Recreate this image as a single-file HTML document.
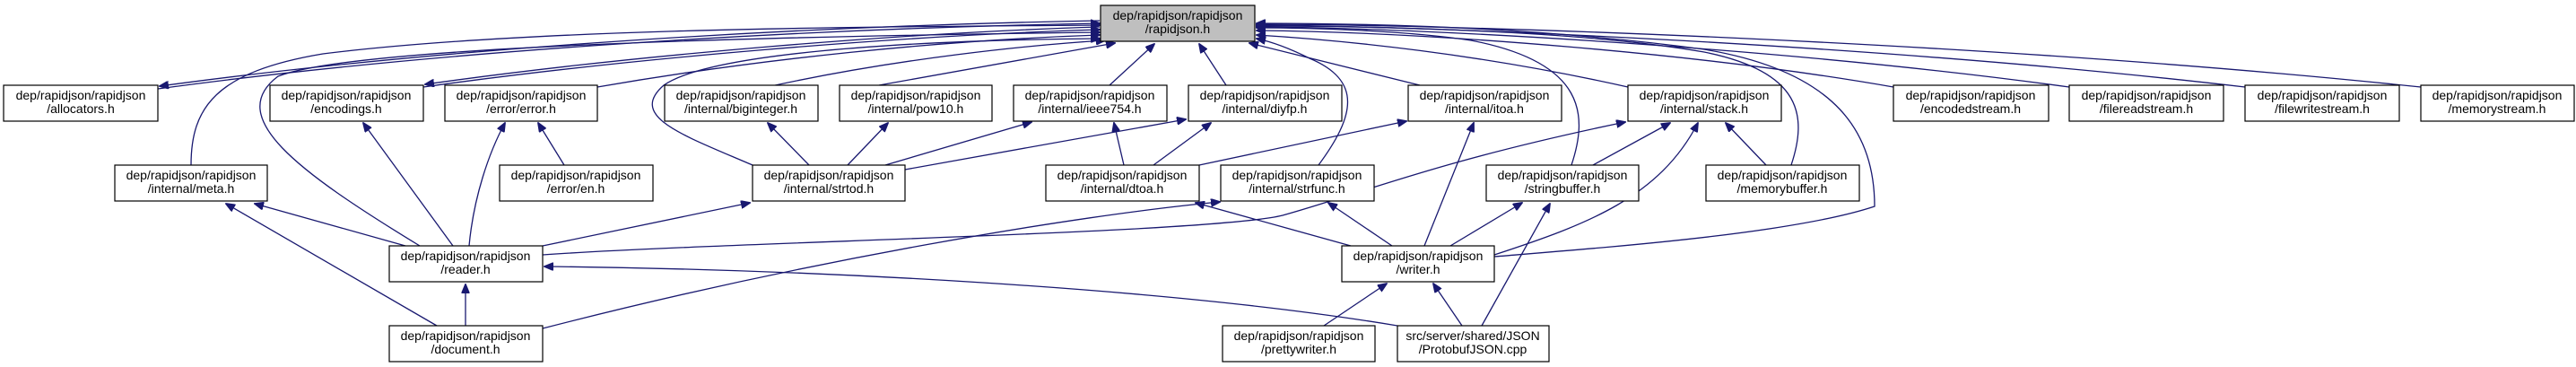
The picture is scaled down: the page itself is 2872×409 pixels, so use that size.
<!DOCTYPE html>
<html><head><meta charset="utf-8"><style>
html,body{margin:0;padding:0;background:#fff;width:2872px;height:409px;overflow:hidden}
svg{display:block}
text{font-family:"Liberation Sans",sans-serif;font-size:14px;fill:#000;text-anchor:middle}
.e{fill:none;stroke:#191970;stroke-width:1.3;marker-end:url(#a)}
rect{stroke:#000;stroke-width:1.2;fill:#fff}
</style></head><body>
<svg width="2872" height="409" viewBox="0 0 2872 409" xmlns="http://www.w3.org/2000/svg">
<defs><marker id="a" markerWidth="11" markerHeight="9" refX="10" refY="4.5" orient="auto" markerUnits="userSpaceOnUse"><path d="M0,0L11,4.5L0,9z" fill="#191970" stroke="#191970"/></marker></defs>
<g>
<path class="e" d="M176,99 C500,55 900,32 1226,26"/>
<path class="e" d="M1226,23 C900,29 500,52 178,96"/>
<path class="e" d="M472,97 C700,65 1000,40 1226,33"/>
<path class="e" d="M1226,30 C1000,37 700,62 474,94"/>
<path class="e" d="M666,97 C850,65 1050,45 1226,39"/>
<path class="e" d="M213,184 C213,120 240,80 360,60 C600,30 1000,30 1226,28"/>
<path class="e" d="M468,274 C330,190 250,130 310,85 C400,50 900,40 1226,36"/>
<path class="e" d="M839,184 C760,150 700,130 740,95 C790,60 1000,45 1226,43"/>
<path class="e" d="M855,97 C1000,65 1150,50 1232,45"/>
<path class="e" d="M980,95 L1243,48"/>
<path class="e" d="M1237,95 L1287,49"/>
<path class="e" d="M1367,95 L1337,49"/>
<path class="e" d="M1583,95 L1393,48"/>
<path class="e" d="M1815,97 C1650,60 1500,45 1401,39"/>
<path class="e" d="M1470,184 C1510,130 1520,90 1460,65 C1440,55 1420,47 1401,43"/>
<path class="e" d="M1752,184 C1770,130 1770,70 1640,45 C1560,33 1450,31 1401,31"/>
<path class="e" d="M1997,184 C2015,130 2010,80 1900,58 C1750,32 1500,29 1401,29"/>
<path class="e" d="M1666,286 C1800,275 2000,260 2090,230 C2090,150 2050,80 1900,55 C1700,28 1500,26 1401,26"/>
<path class="e" d="M2111,97 C1900,60 1600,36 1401,34"/>
<path class="e" d="M2307,97 C2000,55 1600,31 1401,30"/>
<path class="e" d="M2503,97 C2100,50 1600,29 1401,28"/>
<path class="e" d="M2699,97 C2200,45 1600,27 1401,27"/>
<path class="e" d="M902,184 L856,137"/>
<path class="e" d="M945,184 L990,137"/>
<path class="e" d="M987,184 L1150,136"/>
<path class="e" d="M1009,189 L1322,133"/>
<path class="e" d="M1253,184 L1242,137"/>
<path class="e" d="M1286,184 L1350,137"/>
<path class="e" d="M1337,184 L1568,135"/>
<path class="e" d="M605,274 L836,226"/>
<path class="e" d="M505,274 L405,137"/>
<path class="e" d="M523,274 C528,220 545,170 563,137"/>
<path class="e" d="M629,184 L600,137"/>
<path class="e" d="M452,274 L284,227"/>
<path class="e" d="M487,363 L252,227"/>
<path class="e" d="M519,363 L519,317"/>
<path class="e" d="M605,284 C800,270 1350,260 1430,240 C1520,215 1600,180 1812,136"/>
<path class="e" d="M1558,363 C1300,320 900,300 607,297"/>
<path class="e" d="M605,366 C900,290 1200,240 1360,225"/>
<path class="e" d="M1506,274 L1333,226"/>
<path class="e" d="M1552,274 L1481,226"/>
<path class="e" d="M1588,274 L1643,137"/>
<path class="e" d="M1617,274 L1697,226"/>
<path class="e" d="M1666,284 C1770,250 1850,220 1893,137"/>
<path class="e" d="M1776,184 L1862,137"/>
<path class="e" d="M1969,184 L1924,137"/>
<path class="e" d="M1476,363 L1546,316"/>
<path class="e" d="M1630,363 L1598,316"/>
<path class="e" d="M1652,363 L1728,227"/>
</g>
<g>
<rect x="1227" y="6" width="172" height="40" style="fill:#bfbfbf"/><text x="1313" y="22">dep/rapidjson/rapidjson</text><text x="1313" y="37">/rapidjson.h</text>
<rect x="4" y="95" width="172" height="40"/><text x="90" y="111">dep/rapidjson/rapidjson</text><text x="90" y="126">/allocators.h</text>
<rect x="301" y="95" width="171" height="40"/><text x="386" y="111">dep/rapidjson/rapidjson</text><text x="386" y="126">/encodings.h</text>
<rect x="496" y="95" width="170" height="40"/><text x="581" y="111">dep/rapidjson/rapidjson</text><text x="581" y="126">/error/error.h</text>
<rect x="741" y="95" width="171" height="40"/><text x="826" y="111">dep/rapidjson/rapidjson</text><text x="826" y="126">/internal/biginteger.h</text>
<rect x="936" y="95" width="170" height="40"/><text x="1021" y="111">dep/rapidjson/rapidjson</text><text x="1021" y="126">/internal/pow10.h</text>
<rect x="1130" y="95" width="171" height="40"/><text x="1215" y="111">dep/rapidjson/rapidjson</text><text x="1215" y="126">/internal/ieee754.h</text>
<rect x="1325" y="95" width="171" height="40"/><text x="1410" y="111">dep/rapidjson/rapidjson</text><text x="1410" y="126">/internal/diyfp.h</text>
<rect x="1570" y="95" width="171" height="40"/><text x="1655" y="111">dep/rapidjson/rapidjson</text><text x="1655" y="126">/internal/itoa.h</text>
<rect x="1815" y="95" width="171" height="40"/><text x="1900" y="111">dep/rapidjson/rapidjson</text><text x="1900" y="126">/internal/stack.h</text>
<rect x="2111" y="95" width="173" height="40"/><text x="2197" y="111">dep/rapidjson/rapidjson</text><text x="2197" y="126">/encodedstream.h</text>
<rect x="2307" y="95" width="172" height="40"/><text x="2393" y="111">dep/rapidjson/rapidjson</text><text x="2393" y="126">/filereadstream.h</text>
<rect x="2503" y="95" width="172" height="40"/><text x="2589" y="111">dep/rapidjson/rapidjson</text><text x="2589" y="126">/filewritestream.h</text>
<rect x="2699" y="95" width="171" height="40"/><text x="2784" y="111">dep/rapidjson/rapidjson</text><text x="2784" y="126">/memorystream.h</text>
<rect x="128" y="184" width="170" height="40"/><text x="213" y="200">dep/rapidjson/rapidjson</text><text x="213" y="215">/internal/meta.h</text>
<rect x="557" y="184" width="171" height="40"/><text x="642" y="200">dep/rapidjson/rapidjson</text><text x="642" y="215">/error/en.h</text>
<rect x="839" y="184" width="170" height="40"/><text x="924" y="200">dep/rapidjson/rapidjson</text><text x="924" y="215">/internal/strtod.h</text>
<rect x="1166" y="184" width="171" height="40"/><text x="1251" y="200">dep/rapidjson/rapidjson</text><text x="1251" y="215">/internal/dtoa.h</text>
<rect x="1361" y="184" width="171" height="40"/><text x="1446" y="200">dep/rapidjson/rapidjson</text><text x="1446" y="215">/internal/strfunc.h</text>
<rect x="1657" y="184" width="170" height="40"/><text x="1742" y="200">dep/rapidjson/rapidjson</text><text x="1742" y="215">/stringbuffer.h</text>
<rect x="1902" y="184" width="171" height="40"/><text x="1987" y="200">dep/rapidjson/rapidjson</text><text x="1987" y="215">/memorybuffer.h</text>
<rect x="434" y="274" width="171" height="40"/><text x="519" y="290">dep/rapidjson/rapidjson</text><text x="519" y="305">/reader.h</text>
<rect x="1496" y="274" width="170" height="40"/><text x="1581" y="290">dep/rapidjson/rapidjson</text><text x="1581" y="305">/writer.h</text>
<rect x="434" y="363" width="171" height="40"/><text x="519" y="379">dep/rapidjson/rapidjson</text><text x="519" y="394">/document.h</text>
<rect x="1363" y="363" width="170" height="40"/><text x="1448" y="379">dep/rapidjson/rapidjson</text><text x="1448" y="394">/prettywriter.h</text>
<rect x="1558" y="363" width="169" height="40"/><text x="1642" y="379">src/server/shared/JSON</text><text x="1642" y="394">/ProtobufJSON.cpp</text>
</g>
</svg>
</body></html>
